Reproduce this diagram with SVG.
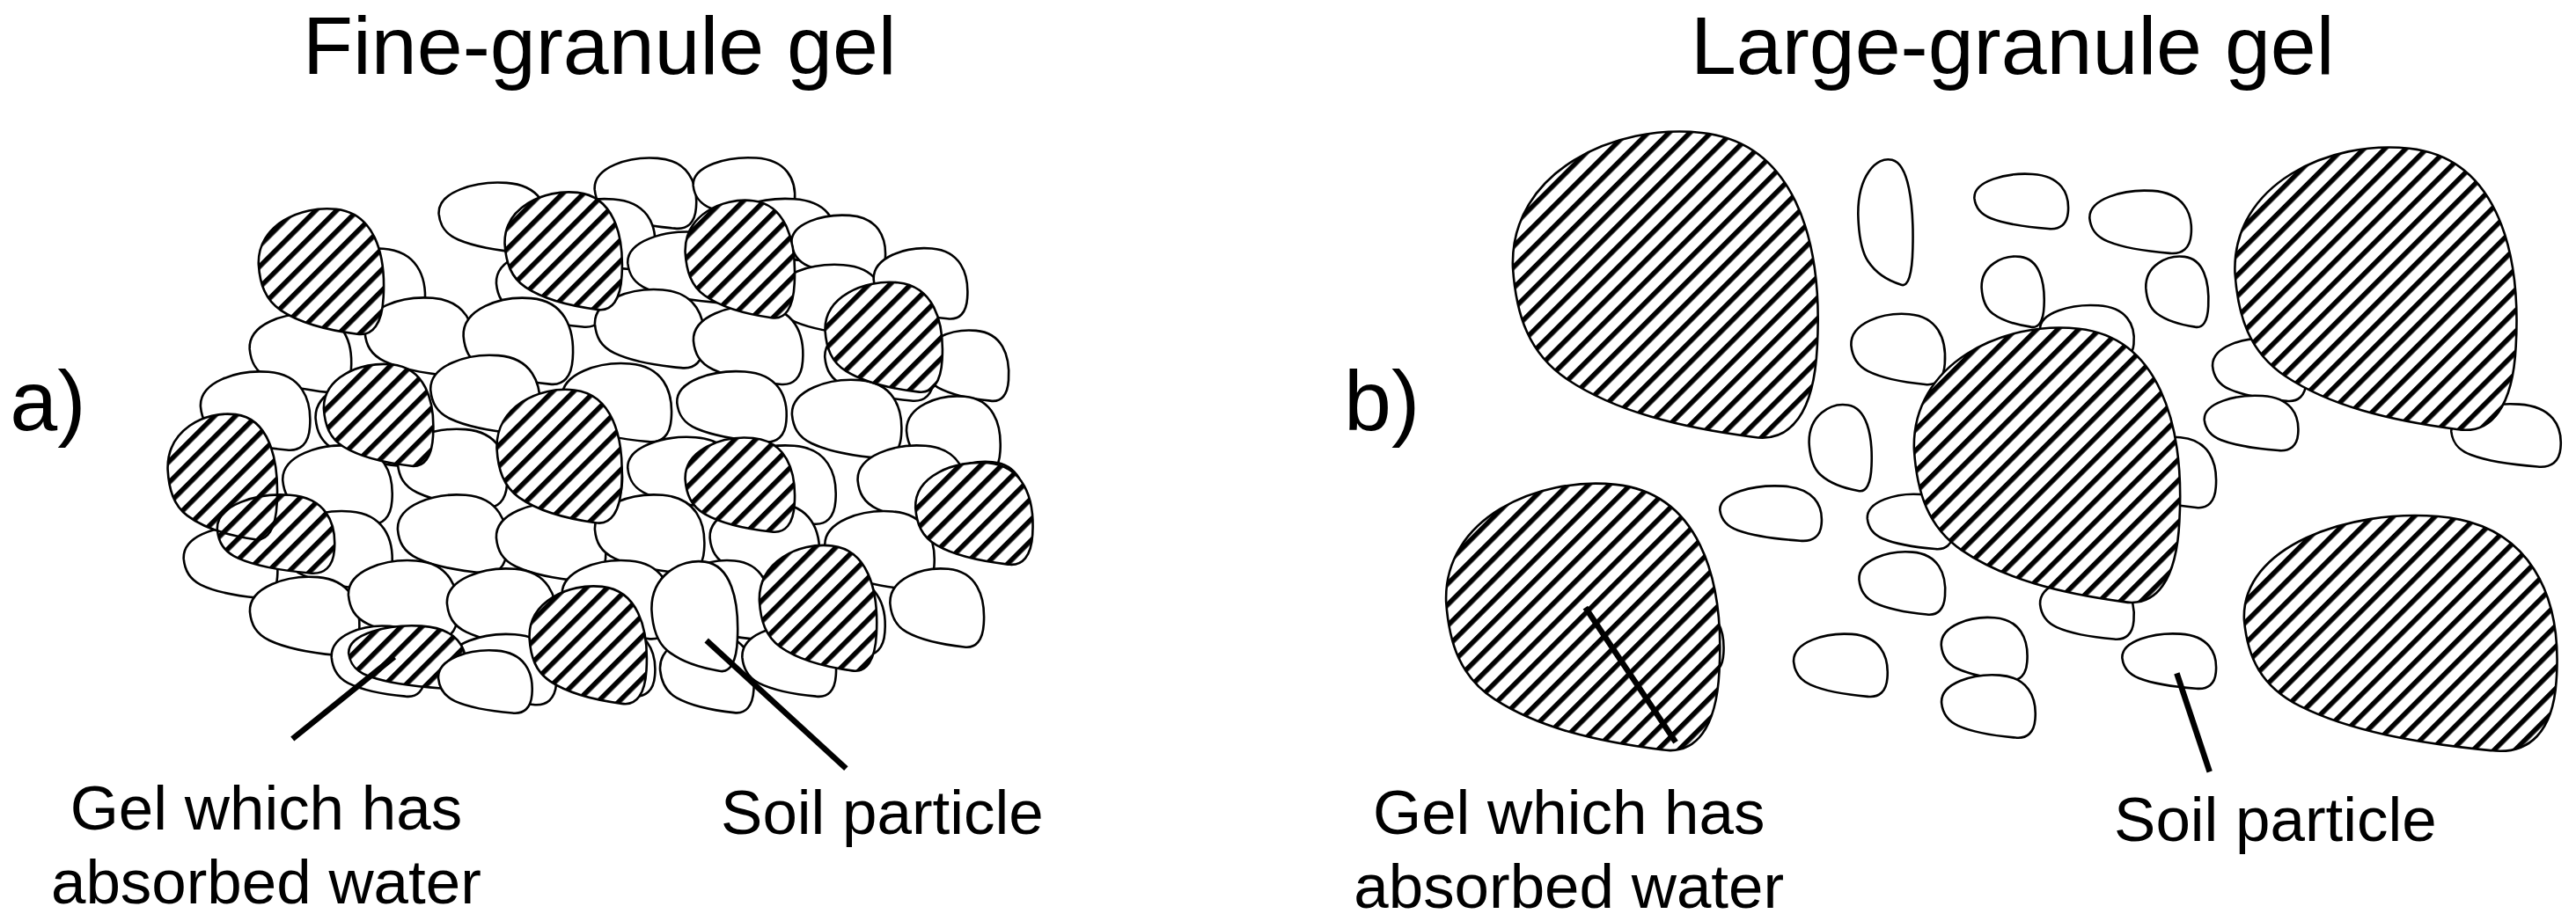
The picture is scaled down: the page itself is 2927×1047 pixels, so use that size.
<svg xmlns="http://www.w3.org/2000/svg" xmlns:xlink="http://www.w3.org/1999/xlink" width="2927" height="1047" viewBox="0 0 2927 1047">
<style>
.t{font-family:"Liberation Sans",Arial,sans-serif;fill:#000}
.w{fill:#fff;stroke:#000}
.o{fill:none;stroke:#000}
.m{fill:#fff;stroke:none}
.ln{stroke:#000;stroke-width:3.5;fill:none}
</style>
<defs>
<path id="b" vector-effect="non-scaling-stroke" stroke-width="2.6" d="M0.03,0.45 C0.02,0.15 0.35,0.0 0.62,0.03 C0.9,0.06 1,0.35 0.98,0.7 C0.97,0.9 0.9,1 0.78,0.98 C0.55,0.95 0.35,0.9 0.2,0.8 C0.08,0.72 0.04,0.6 0.03,0.45Z"/>
<pattern id="h" patternUnits="userSpaceOnUse" width="9" height="9" patternTransform="rotate(45)">
<rect width="9" height="9" fill="#fff"/><rect width="3" height="9" fill="#000"/>
</pattern>
<mask id="ma" maskUnits="userSpaceOnUse" x="0" y="0" width="1600" height="600">
<g class="m">
<use href="#b" transform="translate(155,125) scale(80,80)"/>
<use href="#b" transform="translate(305,115) scale(75,75)"/>
<use href="#b" transform="translate(415,120) scale(70,75)"/>
<use href="#b" transform="translate(500,170) scale(75,70)"/>
<use href="#b" transform="translate(195,220) scale(70,65)"/>
<use href="#b" transform="translate(100,250) scale(70,80)"/>
<use href="#b" transform="translate(300,235) scale(80,85)"/>
<use href="#b" transform="translate(415,265) scale(70,60)"/>
<use href="#b" transform="translate(555,280) scale(75,65)"/>
<use href="#b" transform="translate(130,300) scale(75,50)"/>
<use href="#b" transform="translate(320,355) scale(75,75)"/>
<use href="#b" transform="translate(460,330) scale(75,80)"/>
<use href="#b" transform="translate(210,380) scale(75,40)"/>
</g></mask>
<mask id="mb" maskUnits="userSpaceOnUse" x="0" y="0" width="1600" height="600">
<g class="m">
<use href="#b" transform="translate(915,75) scale(195,195)"/>
<use href="#b" transform="translate(1355,85) scale(180,180)"/>
<use href="#b" transform="translate(1160,195) scale(170,175)"/>
<use href="#b" transform="translate(875,290) scale(175,170)"/>
<use href="#b" transform="translate(1360,310) scale(200,150)"/>
</g></mask>
</defs>
<rect width="2927" height="1047" fill="#fff"/>
<g transform="scale(1.8667)">
<g id="titles">
<text class="t" x="365" y="45" font-size="50" text-anchor="middle">Fine-granule gel</text>
<text class="t" x="1225" y="45" font-size="50" text-anchor="middle">Large-granule gel</text>
<text class="t" x="6" y="262" font-size="52">a)</text>
<text class="t" x="818" y="262" font-size="52">b)</text>
</g>
<g id="panel-a">
<g class="w">
<use href="#b" transform="translate(360,95) scale(65,45)"/><use href="#b" transform="translate(420,95) scale(65,40)"/>
<use href="#b" transform="translate(265,110) scale(70,45)"/><use href="#b" transform="translate(330,120) scale(70,45)"/><use href="#b" transform="translate(440,120) scale(70,40)"/><use href="#b" transform="translate(480,130) scale(60,40)"/>
<use href="#b" transform="translate(190,150) scale(70,50)"/><use href="#b" transform="translate(300,150) scale(70,50)"/><use href="#b" transform="translate(380,140) scale(70,45)"/><use href="#b" transform="translate(470,160) scale(70,45)"/><use href="#b" transform="translate(530,150) scale(60,45)"/>
<use href="#b" transform="translate(150,190) scale(65,50)"/><use href="#b" transform="translate(220,180) scale(70,50)"/><use href="#b" transform="translate(280,180) scale(70,55)"/><use href="#b" transform="translate(360,175) scale(70,50)"/><use href="#b" transform="translate(420,185) scale(70,50)"/><use href="#b" transform="translate(500,195) scale(70,50)"/><use href="#b" transform="translate(560,200) scale(55,45)"/>
<use href="#b" transform="translate(120,225) scale(70,50)"/><use href="#b" transform="translate(190,230) scale(70,55)"/><use href="#b" transform="translate(260,215) scale(70,50)"/><use href="#b" transform="translate(340,220) scale(70,50)"/><use href="#b" transform="translate(410,225) scale(70,45)"/><use href="#b" transform="translate(480,230) scale(70,50)"/><use href="#b" transform="translate(550,240) scale(60,50)"/>
<use href="#b" transform="translate(110,280) scale(60,45)"/><use href="#b" transform="translate(170,270) scale(70,50)"/><use href="#b" transform="translate(240,260) scale(70,50)"/><use href="#b" transform="translate(310,260) scale(70,50)"/><use href="#b" transform="translate(380,265) scale(70,45)"/><use href="#b" transform="translate(440,270) scale(70,50)"/><use href="#b" transform="translate(520,270) scale(70,50)"/><use href="#b" transform="translate(570,280) scale(55,45)"/>
<use href="#b" transform="translate(110,320) scale(60,45)"/><use href="#b" transform="translate(170,310) scale(70,50)"/><use href="#b" transform="translate(240,300) scale(70,50)"/><use href="#b" transform="translate(300,305) scale(70,50)"/><use href="#b" transform="translate(360,300) scale(70,50)"/><use href="#b" transform="translate(430,305) scale(70,50)"/><use href="#b" transform="translate(500,310) scale(70,50)"/>
<use href="#b" transform="translate(150,350) scale(70,50)"/><use href="#b" transform="translate(210,340) scale(70,50)"/><use href="#b" transform="translate(270,345) scale(70,50)"/><use href="#b" transform="translate(340,340) scale(70,50)"/><use href="#b" transform="translate(410,340) scale(60,50)"/><use href="#b" transform="translate(470,350) scale(70,50)"/><use href="#b" transform="translate(540,345) scale(60,50)"/>
<use href="#b" transform="translate(200,380) scale(60,45)"/><use href="#b" transform="translate(270,385) scale(70,45)"/><use href="#b" transform="translate(330,380) scale(70,45)"/><use href="#b" transform="translate(400,385) scale(60,50)"/><use href="#b" transform="translate(450,380) scale(60,45)"/>
</g>
<rect x="0" y="0" width="800" height="600" fill="url(#h)" mask="url(#ma)"/>
<g class="o">
<use href="#b" transform="translate(155,125) scale(80,80)"/><use href="#b" transform="translate(305,115) scale(75,75)"/><use href="#b" transform="translate(415,120) scale(70,75)"/><use href="#b" transform="translate(500,170) scale(75,70)"/><use href="#b" transform="translate(195,220) scale(70,65)"/><use href="#b" transform="translate(100,250) scale(70,80)"/><use href="#b" transform="translate(300,235) scale(80,85)"/><use href="#b" transform="translate(415,265) scale(70,60)"/><use href="#b" transform="translate(555,280) scale(75,65)"/><use href="#b" transform="translate(130,300) scale(75,50)"/><use href="#b" transform="translate(320,355) scale(75,75)"/><use href="#b" transform="translate(460,330) scale(75,80)"/><use href="#b" transform="translate(210,380) scale(75,40)"/>
</g>
<g class="w">
<use href="#b" transform="translate(395,340) scale(55,70)"/><use href="#b" transform="translate(265,395) scale(60,40)"/>
</g>
</g>
<g id="panel-b">
<g class="w">
<use href="#b" transform="translate(1130,95) scale(35,80)"/><use href="#b" transform="translate(1200,105) scale(60,35)"/><use href="#b" transform="translate(1270,115) scale(65,40)"/><use href="#b" transform="translate(1205,155) scale(40,45)"/><use href="#b" transform="translate(1305,155) scale(40,45)"/><use href="#b" transform="translate(1125,190) scale(60,45)"/><use href="#b" transform="translate(1240,185) scale(60,35)"/><use href="#b" transform="translate(1345,205) scale(60,40)"/><use href="#b" transform="translate(1100,245) scale(40,55)"/><use href="#b" transform="translate(1340,240) scale(60,35)"/><use href="#b" transform="translate(1490,245) scale(70,40)"/><use href="#b" transform="translate(1290,265) scale(60,45)"/><use href="#b" transform="translate(1045,295) scale(65,35)"/><use href="#b" transform="translate(1135,300) scale(55,35)"/><use href="#b" transform="translate(1215,300) scale(55,35)"/><use href="#b" transform="translate(1130,335) scale(55,40)"/><use href="#b" transform="translate(1240,350) scale(60,40)"/><use href="#b" transform="translate(1005,370) scale(45,40)"/><use href="#b" transform="translate(1090,385) scale(60,40)"/><use href="#b" transform="translate(1180,375) scale(55,40)"/><use href="#b" transform="translate(1290,385) scale(60,35)"/><use href="#b" transform="translate(1180,410) scale(60,40)"/>
</g>
<rect x="800" y="0" width="800" height="600" fill="url(#h)" mask="url(#mb)"/>
<g class="o">
<use href="#b" transform="translate(915,75) scale(195,195)"/><use href="#b" transform="translate(1355,85) scale(180,180)"/><use href="#b" transform="translate(1160,195) scale(170,175)"/><use href="#b" transform="translate(875,290) scale(175,170)"/><use href="#b" transform="translate(1360,310) scale(200,150)"/>
</g>
</g>
<g id="connectors">
<line class="ln" x1="240" y1="400" x2="178" y2="450"/>
<line class="ln" x1="430" y1="390" x2="515" y2="468"/>
<line class="ln" x1="965" y1="370" x2="1020" y2="452"/>
<line class="ln" x1="1325" y1="410" x2="1345" y2="470"/>
</g>
<g id="labels">
<text class="t" x="162" y="505" font-size="38" text-anchor="middle">Gel which has</text>
<text class="t" x="162" y="550" font-size="38" text-anchor="middle">absorbed water</text>
<text class="t" x="537" y="508" font-size="38" text-anchor="middle">Soil particle</text>
<text class="t" x="955" y="508" font-size="38" text-anchor="middle">Gel which has</text>
<text class="t" x="955" y="553" font-size="38" text-anchor="middle">absorbed water</text>
<text class="t" x="1385" y="512" font-size="38" text-anchor="middle">Soil particle</text>
</g>
</g>
</svg>
